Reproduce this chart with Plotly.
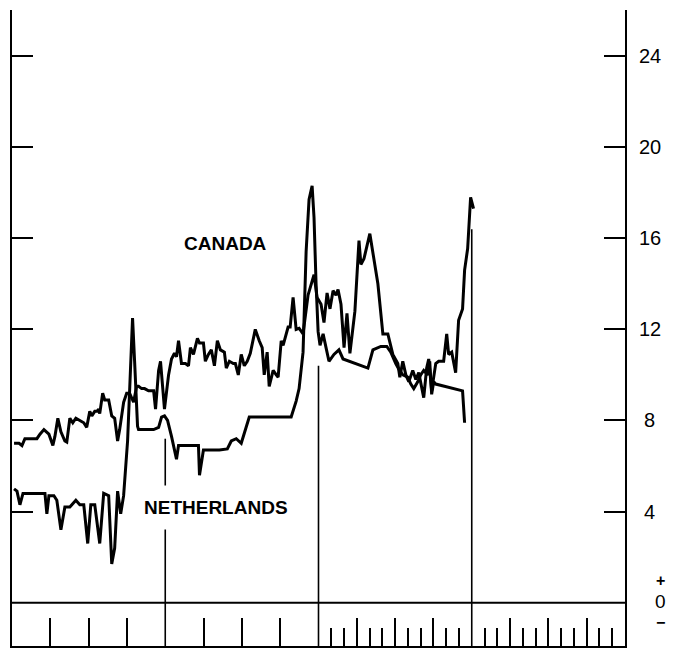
import plotly.graph_objects as go

# Time axis positions (broken scale: 8 annual periods x3 units, then 24 monthly units)
canada_t = [0.16,0.55,0.78,1.01,1.33,1.56,1.95,2.19,2.50,2.89,
            3.20,3.36,3.59,3.83,4.14,4.29,4.53,4.76,5.00,5.31,
            5.62,5.85,6.09,6.25,6.48,6.64,6.79,6.87,7.10,7.26,
            7.57,7.81,8.04,8.27,8.43,8.74,8.98,9.21,9.52,9.76,
            9.91,10.15,10.38,10.69,11.09,11.24,11.48,11.63,11.94,12.26,
            12.49,12.72,12.88,13.04,13.27,13.58,13.82,13.97,14.21,14.52,
            14.68,14.99,15.14,15.38,15.61,15.85,16.08,16.32,16.63,16.78,
            17.02,17.33,17.49,17.72,17.95,18.19,18.42,18.66,19.05,19.36,
            19.59,19.75,19.98,20.14,20.45,20.69,20.84,21.08,21.23,21.62,
            21.78,22.01,22.25,22.48,22.79,23.18,23.65,23.89,24.20,24.43,
            24.67,24.90,25.14,25.37,25.53,25.76,26.00,26.23,26.46,26.85,
            27.17,27.32,27.56,28.02,28.65,29.04,29.43,29.82,30.21,30.37,
            30.60,30.84,31.07,31.38,31.62,31.85,32.24,32.47,32.63,32.86,
            33.02,33.18,33.41,33.80,34.04,34.19,34.43,34.74,34.97,35.28,
            35.44,35.68,35.91,36.14]
canada_v = [7.0,7.0,6.9,7.2,7.2,7.2,7.2,7.4,7.6,7.4,
            6.9,7.3,8.1,7.5,7.1,7.05,8.1,7.9,8.1,8.0,
            7.9,7.7,8.4,8.2,8.4,8.4,8.5,8.3,9.2,8.9,
            8.9,8.2,8.1,7.1,7.6,8.8,9.2,9.2,8.8,9.5,
            9.5,9.4,9.4,9.3,9.3,8.5,10.2,10.6,8.5,10.0,
            10.7,10.95,10.8,11.5,10.5,10.5,10.4,11.2,10.9,11.6,
            11.4,11.4,10.6,10.9,11.1,10.4,11.5,11.1,11.0,10.3,
            10.6,10.5,10.5,10.0,10.9,10.4,10.6,10.95,12.0,11.5,
            11.2,10.0,11.0,9.5,10.2,10.0,9.9,11.5,11.3,12.1,
            12.1,13.4,12.0,12.05,11.8,13.5,14.4,13.4,13.1,12.3,
            13.6,12.9,13.7,13.5,13.75,13.1,11.2,12.7,10.95,12.8,
            15.9,14.85,15.1,16.2,14.0,11.8,11.8,10.9,10.5,9.9,
            10.6,10.0,9.7,10.2,9.8,10.1,9.0,10.3,10.7,9.3,
            10.0,10.5,10.6,10.6,11.8,10.9,11.0,10.1,12.4,12.9,
            14.6,15.55,17.8,17.3]

neth_t = [0.16,0.39,0.62,0.86,2.58,2.73,2.89,3.28,3.51,3.83,
          4.14,4.53,5.00,5.31,5.62,5.93,6.17,6.48,6.87,7.18,
          7.57,7.81,8.04,8.27,8.51,8.74,9.05,9.29,9.44,9.60,
          9.83,9.91,11.09,11.48,11.71,11.94,12.18,12.49,12.88,13.04,
          14.60,14.68,14.99,16.24,16.86,17.17,17.56,17.95,18.58,21.86,
          22.25,22.48,22.79,23.03,23.26,23.50,23.65,23.81,23.97,24.12,
          24.36,24.59,24.82,25.21,25.60,25.92,26.93,27.32,27.48,27.87,
          28.26,28.88,29.35,29.66,30.05,30.29,30.60,30.99,31.23,31.46,
          31.77,32.00,32.24,32.55,32.71,32.86,33.02,33.18,35.28,35.44]
neth_v = [5.0,4.9,4.3,4.8,4.8,3.9,4.7,4.7,4.5,3.2,
          4.2,4.2,4.5,4.3,4.3,2.6,4.3,4.3,2.6,4.8,
          4.7,1.7,2.4,4.9,3.9,4.7,7.1,10.6,12.5,10.6,
          7.75,7.6,7.6,7.7,8.15,8.2,8.0,7.3,6.3,6.9,
          6.9,5.6,6.7,6.7,6.75,7.1,7.2,7.0,8.15,8.15,
          8.85,9.4,11.0,15.4,17.7,18.3,16.9,14.0,11.9,11.3,
          11.8,11.2,10.6,10.9,11.1,10.7,10.5,10.4,10.4,10.3,
          11.1,11.25,11.25,11.0,10.5,10.25,10.0,9.9,9.6,9.4,
          9.7,10.0,10.2,10.0,10.6,9.15,9.7,9.6,9.3,7.9]

y_ticks = [4, 8, 12, 16, 20, 24]
x_major_ticks = [3, 6, 9, 15, 18, 21, 27, 30, 33, 39, 42, 45]
x_minor_ticks = [25, 26, 28, 29, 31, 32, 34, 35, 37, 38, 40, 41, 43, 44, 46, 47]
dividers = [12, 24, 36]
divider_tops = [7.2, 10.4, 16.4]

assert len(canada_t) == len(canada_v)
assert len(neth_t) == len(neth_v)

YMIN, YMAX = -1.9, 26.02
XMIN, XMAX = 0, 48

fig = go.Figure()
line_style = dict(color="black", width=3)
fig.add_trace(go.Scatter(x=canada_t, y=canada_v, mode="lines", line=line_style,
                         name="CANADA", showlegend=False, hoverinfo="skip"))
fig.add_trace(go.Scatter(x=neth_t, y=neth_v, mode="lines", line=line_style,
                         name="NETHERLANDS", showlegend=False, hoverinfo="skip"))

shapes = []
shapes.append(dict(type="line", xref="x", yref="y", x0=XMIN, x1=XMAX, y0=0, y1=0,
                   line=dict(color="black", width=2)))
for xd, top in zip(dividers, divider_tops):
    shapes.append(dict(type="line", xref="x", yref="y", x0=xd, x1=xd, y0=YMIN, y1=top,
                       line=dict(color="black", width=1.6), layer="below"))
fig.update_layout(shapes=shapes)

FONT = "Liberation Sans"
annotations = []
for v in y_ticks:
    annotations.append(dict(x=1.0407, xref="paper", y=v, yref="y", text=str(v),
                            showarrow=False, xanchor="center", yanchor="middle",
                            font=dict(family=FONT, size=20, color="black")))
annotations.append(dict(x=1.0585, xref="paper", y=0.05, yref="y", text="0",
                        showarrow=False, xanchor="center", yanchor="middle",
                        font=dict(family=FONT, size=19, color="black")))
annotations.append(dict(x=1.0585, xref="paper", y=0.97, yref="y", text="<b>+</b>",
                        showarrow=False, xanchor="center", yanchor="middle",
                        font=dict(family=FONT, size=16, color="black")))
annotations.append(dict(x=1.0585, xref="paper", y=-0.88, yref="y", text="<b>−</b>",
                        showarrow=False, xanchor="center", yanchor="middle",
                        font=dict(family=FONT, size=16, color="black")))
annotations.append(dict(x=16.7, xref="x", y=15.75, yref="y", text="<b>CANADA</b>",
                        showarrow=False, xanchor="center", yanchor="middle",
                        font=dict(family=FONT, size=19, color="black")))
annotations.append(dict(x=16.0, xref="x", y=4.2, yref="y", text="<b>NETHERLANDS</b>",
                        showarrow=False, xanchor="center", yanchor="middle",
                        bgcolor="white", borderpad=11,
                        font=dict(family=FONT, size=19, color="black")))
fig.update_layout(annotations=annotations)

# page body has an 8px default margin: size the figure so the plot lands where the reference's does
fig.update_layout(
    width=672, height=641,
    margin=dict(l=2, r=55, t=2, b=3),
    paper_bgcolor="white", plot_bgcolor="white",
    xaxis=dict(range=[XMIN, XMAX], showgrid=False, zeroline=False,
               showline=True, linecolor="black", linewidth=2, mirror=False,
               ticks="inside", tickmode="array", tickvals=x_major_ticks,
               ticklen=28, tickwidth=1.6, tickcolor="black",
               showticklabels=False,
               minor=dict(tickmode="array", tickvals=x_minor_ticks, ticks="inside",
                          ticklen=18, tickwidth=1.6, tickcolor="black", showgrid=False)),
    yaxis=dict(range=[YMIN, YMAX], showgrid=False, zeroline=False, side="right",
               showline=True, linecolor="black", linewidth=2, mirror="ticks",
               ticks="inside", tickmode="array", tickvals=y_ticks + [26],
               ticklen=21, tickwidth=2, tickcolor="black",
               showticklabels=False),
)

fig.write_html("out.html")
